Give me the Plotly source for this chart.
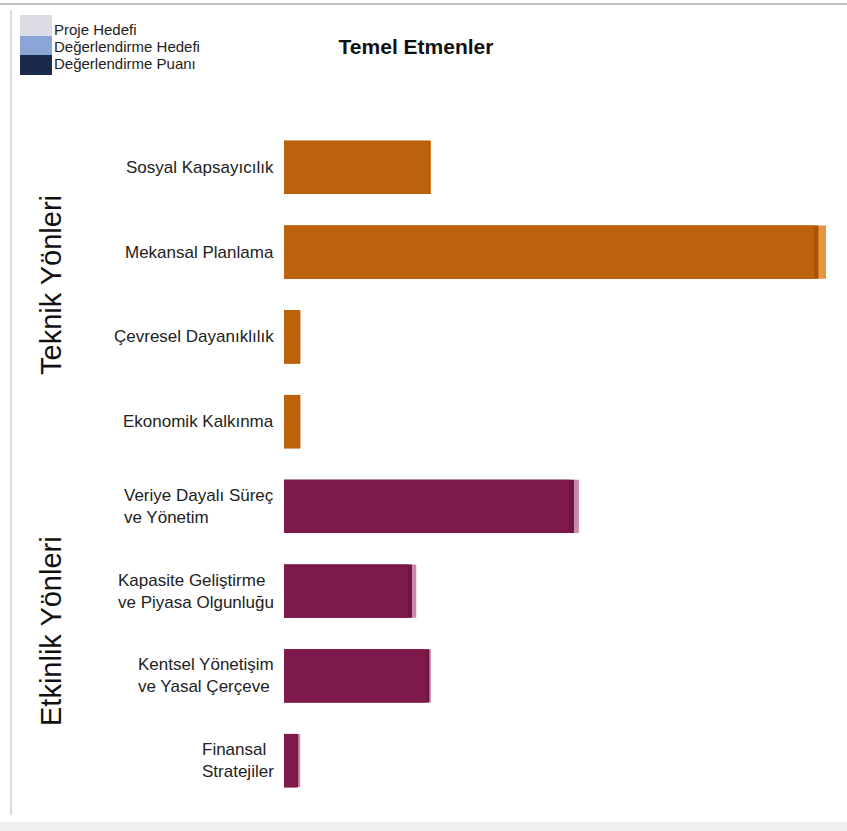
import plotly.graph_objects as go

categories = ["Sosyal Kapsayıcılık", "Mekansal Planlama", "Çevresel Dayanıklılık",
              "Ekonomik Kalkınma", "Veriye Dayalı Süreç ve Yönetim",
              "Kapasite Geliştirme ve Piyasa Olgunluğu", "Kentsel Yönetişim ve Yasal Çerçeve",
              "Finansal Stratejiler"]
tick_labels = ["Sosyal Kapsayıcılık", "Mekansal Planlama", "Çevresel Dayanıklılık",
               "Ekonomik Kalkınma", "Veriye Dayalı Süreç<br>ve Yönetim",
               "Kapasite Geliştirme<br>ve Piyasa Olgunluğu", "Kentsel Yönetişim<br>ve Yasal Çerçeve",
               "Finansal<br>Stratejiler"]
groups = ["Teknik Yönleri"] * 4 + ["Etkinlik Yönleri"] * 4
group_names = ["Teknik Yönleri", "Etkinlik Yönleri"]

proje_hedefi = [27.1, 100.0, 3.0, 3.0, 54.4, 24.4, 27.1, 3.0]
degerlendirme_hedefi = [27.0, 98.6, 3.0, 3.0, 53.5, 23.6, 26.8, 2.6]
degerlendirme_puani = [26.8, 97.8, 2.9, 2.9, 52.6, 22.9, 26.2, 2.4]

series_names = ["Proje Hedefi", "Değerlendirme Hedefi", "Değerlendirme Puanı"]
series_values = [proje_hedefi, degerlendirme_hedefi, degerlendirme_puani]
legend_colors = ["#dcdde4", "#8aa5d6", "#1a2a4c"]
group_colors = {
    "Teknik Yönleri": ["#e8953f", "#a9520a", "#bd620c"],
    "Etkinlik Yönleri": ["#c78aaa", "#6e1540", "#7d1a4b"],
}

W, H = 847, 831
ML, MR, MT, MB = 284, 12, 125, 28
PW, PH = W - ML - MR, H - MT - MB


def px_x(p):
    return (p - ML) / PW


def px_y(p):
    return (H - MB - p) / PH


FONT = "Liberation Sans, Arial, sans-serif"

fig = go.Figure()
for i, (name, vals) in enumerate(zip(series_names, series_values)):
    fig.add_trace(go.Bar(
        y=categories, x=vals, orientation="h", name=name,
        marker=dict(color=[group_colors[g][i] for g in groups], line=dict(width=0)),
        width=0.63, showlegend=False, hoverinfo="x+y+name",
    ))

annotations = []
for cat, lab in zip(categories, tick_labels):
    annotations.append(dict(x=0, y=cat, xref="x", yref="y", text=lab, showarrow=False,
                            xanchor="right", yanchor="middle", align="left", xshift=-8,
                            font=dict(family=FONT, size=17, color="#222")))
group_centers = {"Teknik Yönleri": 285, "Etkinlik Yönleri": 631}
for g in group_names:
    annotations.append(dict(x=px_x(51), y=px_y(group_centers[g]), xref="paper", yref="paper",
                            text=g, showarrow=False, textangle=-90,
                            xanchor="center", yanchor="middle",
                            font=dict(family=FONT, size=29, color="#111")))

# legend (manual, stacked swatches as in the reference)
legend_rows = [29, 46, 64]
swatch_edges = [15, 36, 55, 75]
shapes = []
for i, (name, col) in enumerate(zip(series_names, legend_colors)):
    shapes.append(dict(type="rect", xref="paper", yref="paper",
                       x0=px_x(20), x1=px_x(52), y0=px_y(swatch_edges[i]), y1=px_y(swatch_edges[i + 1]),
                       line=dict(width=0), fillcolor=col))
    annotations.append(dict(x=px_x(52), y=px_y(legend_rows[i]), xref="paper", yref="paper",
                            text=name, showarrow=False, xanchor="left", yanchor="middle",
                            font=dict(family=FONT, size=15, color="#222")))

shapes += [
    dict(type="line", xref="paper", yref="paper", x0=px_x(0), x1=px_x(W), y0=px_y(4), y1=px_y(4),
         line=dict(color="#c4c4c4", width=2)),
    dict(type="line", xref="paper", yref="paper", x0=px_x(11), x1=px_x(11), y0=px_y(10), y1=px_y(815),
         line=dict(color="#d0d0d0", width=1.5)),
    dict(type="rect", xref="paper", yref="paper", x0=px_x(0), x1=px_x(W), y0=px_y(822), y1=px_y(H),
         line=dict(width=0), fillcolor="#f0f0f0", layer="below"),
]

fig.update_layout(
    width=W, height=H,
    margin=dict(l=ML, r=MR, t=MT, b=MB),
    barmode="overlay",
    showlegend=False,
    plot_bgcolor="white", paper_bgcolor="white",
    title=dict(text="<b>Temel Etmenler</b>", x=416 / W, xref="container", xanchor="center",
               y=1 - 47 / H, yref="container", yanchor="middle",
               font=dict(family=FONT, size=21, color="#111")),
    xaxis=dict(range=[0, PW / 5.42], showticklabels=False, showgrid=False, zeroline=False,
               showline=False, ticks=""),
    yaxis=dict(autorange="reversed", showticklabels=False, showgrid=False, zeroline=False,
               showline=False, ticks="", type="category"),
    annotations=annotations,
    shapes=shapes,
)

fig.write_html("out.html", config={"displayModeBar": False},
               post_script="document.body.style.margin='0px';")
